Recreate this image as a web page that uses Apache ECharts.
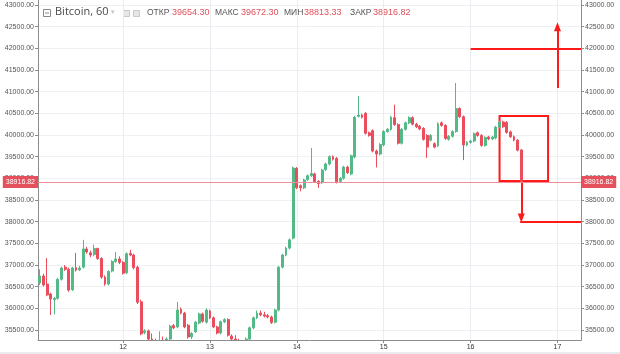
<!DOCTYPE html>
<html><head><meta charset="utf-8">
<script src="https://cdn.jsdelivr.net/npm/echarts@6/dist/echarts.min.js"></script>
<style>html,body{margin:0;padding:0;background:#fff}#c{width:620px;height:354px}</style>
</head><body><div id="c"></div>
<script>
// hourly candles, hour index counted from day 11 00:00
const opens = [36584,36746,36560,36330,36200,36230,36670,36950,36900,36430,
36940,36890,36950,37370,37280,37240,37380,37150,36720,36560,
36860,37080,37140,37060,36820,37270,37230,36950,36150,35440,
35480,35290,35150,35100,35200,35150,35290,35600,35570,35980,
35890,35610,35340,35460,35660,35870,35680,35940,35780,35570,
35430,35690,35740,35360,35290,35150,35100,35200,35290,35550,
35780,35890,35850,35830,35800,35680,35960,36950,37230,37390,
37620,39230,38830,38780,38970,39060,39100,38930,38900,39200,
39330,39500,39460,38930,39000,39260,39100,39490,40430,40460,
40500,40050,40100,39630,39560,39770,40080,40130,40400,40240,
39810,40130,40280,40400,40250,40200,40150,39990,39880,39800,
39750,40280,40220,39900,39970,40080,40610,40420,39770,39830,
39860,40050,39990,39760,39950,39910,39930,40180,40300,40290,
40070,39960,39880,39654.30];
const closes = [36746,36540,36310,36215,36230,36670,36930,36900,36420,36930,
36880,36930,37370,37300,37230,37380,37150,36720,36560,36850,
37080,37140,37060,36810,37260,37230,36940,36140,35410,35480,
35290,35150,35100,35200,35150,35290,35590,35550,35960,35890,
35570,35340,35420,35680,35870,35700,35960,35780,35570,35430,
35690,35740,35380,35290,35150,35100,35200,35290,35550,35780,
35890,35850,35820,35800,35670,35960,36950,37230,37390,37580,
39240,38780,38780,38960,39060,39110,38920,38880,39190,39330,
39500,39440,38920,39000,39260,39130,39520,40410,40460,40410,
40040,39990,39630,39560,39780,40080,40130,40410,40240,39810,
40130,40280,40400,40250,40190,40140,39900,39720,39990,39720,
40260,40220,39920,39970,40080,40610,40420,39770,39830,39860,
40030,39990,39760,39940,39910,39950,40180,40300,40190,40060,
39960,39880,39650,38916.82];
const lows = [36540,36500,36280,35845,35860,36200,36640,36860,36380,36400,
36850,36860,36920,37260,37180,37200,37120,36680,36520,36530,
36830,37050,37020,36780,36790,37200,36900,36100,35380,35400,
35250,35050,35000,35000,35050,35080,35260,35520,35540,35860,
35540,35300,35290,35430,35630,35670,35650,35750,35540,35400,
35400,35660,35350,35250,35050,35000,35000,35100,35260,35520,
35750,35820,35790,35770,35640,35650,35930,36920,37200,37360,
37590,38750,38700,38750,38940,39030,38890,38780,38870,39170,
39300,39410,38880,38900,38970,39100,39070,39460,40400,40380,
40010,39960,39600,39250,39530,39740,40050,40100,40210,39780,
39780,40100,40250,40220,40160,40110,39870,39470,39850,39690,
39720,40190,39890,39870,39940,40050,40390,39420,39740,39800,
39830,39960,39730,39730,39880,39880,39900,40150,40160,40030,
39930,39850,39620,38813.33];
const highs = [36900,36800,37160,36360,36260,36700,36960,37000,36940,36960,
37280,36980,37580,37420,37330,37470,37400,37180,36760,36880,
37110,37300,37200,37090,37290,37350,37260,36980,36200,35520,
35510,35420,35300,35470,35350,35330,35620,35640,36145,36020,
35920,35640,35450,35710,35900,35900,36000,35970,35810,35600,
35720,35770,35770,35400,35380,35300,35250,35330,35580,35810,
35950,35950,35920,35870,35830,35990,36980,37260,37420,37610,
39270,39260,38860,38990,39090,39700,39130,38960,39220,39360,
39530,39530,39490,39030,39290,39290,39550,40440,40900,40490,
40530,40080,40130,39660,39810,40110,40160,40440,40700,40270,
40160,40310,40430,40430,40280,40230,40180,40020,40020,39830,
40290,40310,40250,40000,40110,41200,40640,40450,39860,39890,
40060,40080,40020,39970,39980,39980,40210,40330,40330,40320,
40100,39990,39910,39672.30];
const hours = opens.map((_, i) => i + 1);

const dayHours = [24, 48, 72, 96, 120, 144];
const dayLabels = ['12', '13', '14', '15', '16', '17'];
const yTicks = [35500,36000,36500,37000,37500,38000,38500,39000,39500,40000,40500,41000,41500,42000,42500,43000];

// drawn annotations (hour, price)
const upLevel = 42000, upLevelHours = [120, 150.5];
const downLevel = 38000, downLevelHours = [133.7, 150.5];
const upArrowHour = 144, upArrowPrices = [41083, 42500];
const downArrowHour = 134, downArrowPrices = [38891, 38084];
const boxHours = [128, 141.4], boxPrices = [40437, 38937];

const last = opens.length - 1;
const lastPrice = closes[last];

const FONT = 'Liberation Sans, Arial, sans-serif';
const UP = '#53b987', DOWN = '#eb4d5c', RED = '#ff1a1a';

const chart = echarts.init(document.getElementById('c'));

function yAxisCfg(pos, split) {
  return {
    type: 'value', position: pos, min: 35269, max: 43115, scale: true,
    axisLine: {show: true, lineStyle: {color: '#8c8c8c'}},
    axisTick: {show: true, length: 3, customValues: yTicks, lineStyle: {color: '#8c8c8c'}},
    axisLabel: {customValues: yTicks, formatter: v => Number(v).toFixed(2), fontSize: 7, color: '#555', margin: 4, fontFamily: FONT},
    splitLine: {show: split, lineStyle: {color: '#eef1f4'}}
  };
}

const txt = (x, t, size, color, family) => ({
  type: 'text', left: x, top: 13 - size * 0.6,
  style: {text: t, fontSize: size, fill: color, fontFamily: family || FONT}
});

const priceLabel = (pos) => ({
  yAxis: lastPrice,
  label: {show: true, position: pos, distance: 0, formatter: lastPrice.toFixed(2),
    backgroundColor: '#e5505d', color: '#fff', fontSize: 7, fontFamily: FONT, padding: [3, 3, 2, 3]}
});

chart.setOption({
  animation: false,
  grid: {left: 38, right: 39, top: 0, bottom: 14},
  xAxis: [
    {
      // bottom axis: line, ticks, day labels (drawn above the mask)
      type: 'value', min: 0.5, max: 150.5, z: 10, position: 'bottom',
      axisLine: {show: true, onZero: false, lineStyle: {color: '#8c8c8c'}},
      axisTick: {show: true, length: 3, customValues: dayHours, lineStyle: {color: '#8c8c8c'}},
      axisLabel: {customValues: dayHours, formatter: v => dayLabels[dayHours.indexOf(Number(v))], fontSize: 7, color: '#333', margin: 4, fontFamily: FONT},
      splitLine: {show: false}
    },
    {
      // vertical day grid lines, under the series
      type: 'value', min: 0.5, max: 150.5, position: 'top',
      axisLine: {show: false}, axisLabel: {show: false},
      axisTick: {show: false, customValues: dayHours},
      splitLine: {show: true, lineStyle: {color: '#e9ecf0'}}
    }
  ],
  yAxis: [yAxisCfg('left', true), yAxisCfg('right', false)],
  graphic: [
    // mask below the plot bottom so candles under the axis minimum stay hidden
    {type: 'rect', z: 5, shape: {x: 38.5, y: 340.5, width: 542, height: 11.5}, style: {fill: '#fff'}},
    {type: 'rect', z: 5, left: 0, top: 352, shape: {width: 620, height: 2}, style: {fill: '#e8ebf0'}},
    {type: 'rect', shape: {x: 43.5, y: 9.5, width: 7, height: 7}, style: {fill: 'none', stroke: '#8a8a8a', lineWidth: 1}},
    {type: 'line', shape: {x1: 45, y1: 13, x2: 49, y2: 13}, style: {stroke: '#8a8a8a', lineWidth: 1}},
    txt(55, 'Bitcoin, 60', 11, '#4b4b4b', 'Open Sans, Liberation Sans, sans-serif'),
    txt(111, '▾', 7, '#c4c4c4', 'DejaVu Sans'),
    {type: 'rect', shape: {x: 123.5, y: 10.5, width: 6, height: 6}, style: {fill: '#e6e6e6', stroke: '#c8c8c8'}},
    {type: 'rect', shape: {x: 133.5, y: 10.5, width: 6, height: 6}, style: {fill: '#e6e6e6', stroke: '#c8c8c8'}},
    txt(147, 'ОТКР', 8.5, '#555'),
    txt(172, opens[last].toFixed(2), 9, '#e0505a'),
    txt(215, 'МАКС', 8.5, '#555'),
    txt(241, highs[last].toFixed(2), 9, '#e0505a'),
    txt(284, 'МИН', 8.5, '#555'),
    txt(304, lows[last].toFixed(2), 9, '#e0505a'),
    txt(350, 'ЗАКР', 8.5, '#555'),
    txt(373, closes[last].toFixed(2), 9, '#e0505a')
  ],
  series: [
    {
      type: 'candlestick', clip: true, z: 2, xAxisIndex: 0,
      data: hours.map((h, i) => [h, opens[i], closes[i], lows[i], highs[i]]),
      encode: {x: 0, y: [1, 2, 3, 4]},
      barWidth: 2.4,
      itemStyle: {color: UP, color0: DOWN, borderColor: UP, borderColor0: DOWN, borderWidth: 1},
      markLine: {
        silent: true, symbol: ['none', 'none'],
        lineStyle: {color: '#ee8f98', width: 1, type: 'solid'},
        data: [priceLabel('start'), priceLabel('end')]
      }
    },
    {
      type: 'line', data: [], silent: true, z: 3, xAxisIndex: 0,
      markLine: {
        silent: true, symbol: ['none', 'none'], symbolSize: [7, 9],
        lineStyle: {color: RED, width: 2, type: 'solid'},
        label: {show: false},
        data: [
          [{coord: [upLevelHours[0], upLevel]}, {coord: [upLevelHours[1], upLevel]}],
          [{coord: [downLevelHours[0], downLevel]}, {coord: [downLevelHours[1], downLevel]}],
          [{coord: [upArrowHour, upArrowPrices[0]]}, {coord: [upArrowHour, upArrowPrices[1]], symbol: 'triangle', symbolSize: [7, 9]}],
          [{coord: [downArrowHour, downArrowPrices[0]]}, {coord: [downArrowHour, downArrowPrices[1]], symbol: 'triangle', symbolSize: [7, 9]}]
        ]
      },
      markArea: {
        silent: true,
        itemStyle: {color: 'rgba(0,0,0,0)', borderColor: RED, borderWidth: 2},
        data: [[{coord: [boxHours[0], boxPrices[0]]}, {coord: [boxHours[1], boxPrices[1]]}]]
      }
    }
  ]
});
</script>
</body></html>
